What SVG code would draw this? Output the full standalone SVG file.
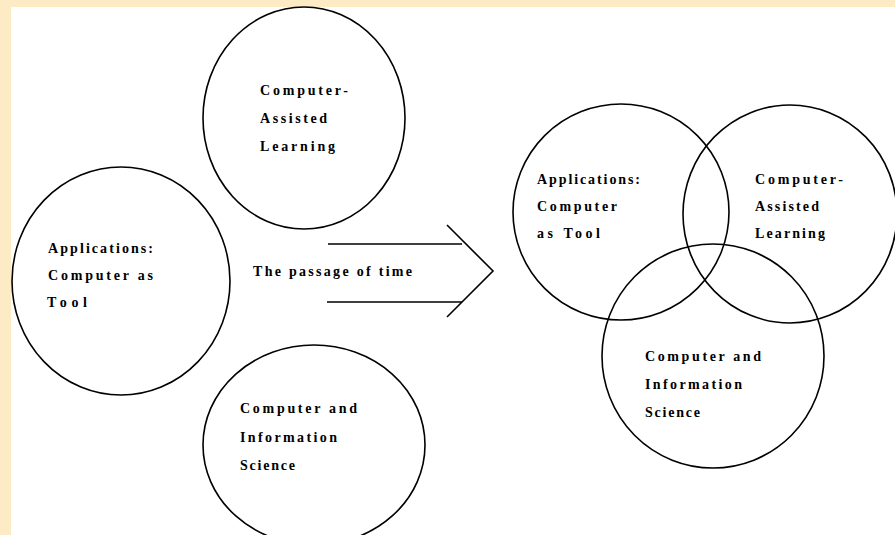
<svg xmlns="http://www.w3.org/2000/svg" width="895" height="535" viewBox="0 0 895 535">
<style>
.c{fill:none;stroke:#000;stroke-width:1.6}
.t{font-family:"Liberation Serif","Times New Roman",serif;font-size:14px;font-weight:bold;fill:#000}
.a{fill:none;stroke:#000;stroke-width:1.6}
</style>
<rect x="0" y="0" width="895" height="535" fill="#FDEBC6"/>
<rect x="11" y="7" width="884" height="528" fill="#FFFFFF"/>
<g id="cal-left">
<ellipse class="c" cx="304" cy="118" rx="101" ry="111"/>
<text class="t" x="260" y="95" textLength="88" lengthAdjust="spacing">Computer-</text>
<text class="t" x="260" y="123" textLength="67" lengthAdjust="spacing">Assisted</text>
<text class="t" x="260" y="151" textLength="75" lengthAdjust="spacing">Learning</text>
</g>
<g id="app-left">
<ellipse class="c" cx="121" cy="281" rx="109" ry="114"/>
<text class="t" x="48" y="253" textLength="105" lengthAdjust="spacing">Applications:</text>
<text class="t" x="48" y="280" textLength="105" lengthAdjust="spacing">Computer as</text>
<text class="t" x="47" y="307" textLength="40" lengthAdjust="spacing">Tool</text>
</g>
<g id="cis-left">
<ellipse class="c" cx="314" cy="445" rx="111" ry="100"/>
<text class="t" x="240" y="413" textLength="117" lengthAdjust="spacing">Computer and</text>
<text class="t" x="240" y="442" textLength="97" lengthAdjust="spacing">Information</text>
<text class="t" x="240" y="470" textLength="55" lengthAdjust="spacing">Science</text>
</g>
<g id="connectors">
<line class="a" x1="328" y1="244" x2="462" y2="244"/>
<line class="a" x1="327" y1="302" x2="462" y2="302"/>
<polyline class="a" points="447,225 493,271 447,317"/>
</g>
<g id="time-label">
<text class="t" x="253" y="276" textLength="159" lengthAdjust="spacing">The passage of time</text>
</g>
<g id="app-venn">
<ellipse class="c" cx="621" cy="212" rx="108" ry="108"/>
<text class="t" x="537" y="184" textLength="103" lengthAdjust="spacing">Applications:</text>
<text class="t" x="537" y="211" textLength="80" lengthAdjust="spacing">Computer</text>
<text class="t" x="537" y="238" textLength="63" lengthAdjust="spacing">as Tool</text>
</g>
<g id="cal-venn">
<ellipse class="c" cx="790" cy="214" rx="107" ry="109"/>
<text class="t" x="755" y="184" textLength="88" lengthAdjust="spacing">Computer-</text>
<text class="t" x="755" y="211" textLength="64" lengthAdjust="spacing">Assisted</text>
<text class="t" x="755" y="238" textLength="70" lengthAdjust="spacing">Learning</text>
</g>
<g id="cis-venn">
<ellipse class="c" cx="713" cy="356" rx="111" ry="112"/>
<text class="t" x="645" y="361" textLength="116" lengthAdjust="spacing">Computer and</text>
<text class="t" x="645" y="389" textLength="97" lengthAdjust="spacing">Information</text>
<text class="t" x="645" y="417" textLength="55" lengthAdjust="spacing">Science</text>
</g>
</svg>
